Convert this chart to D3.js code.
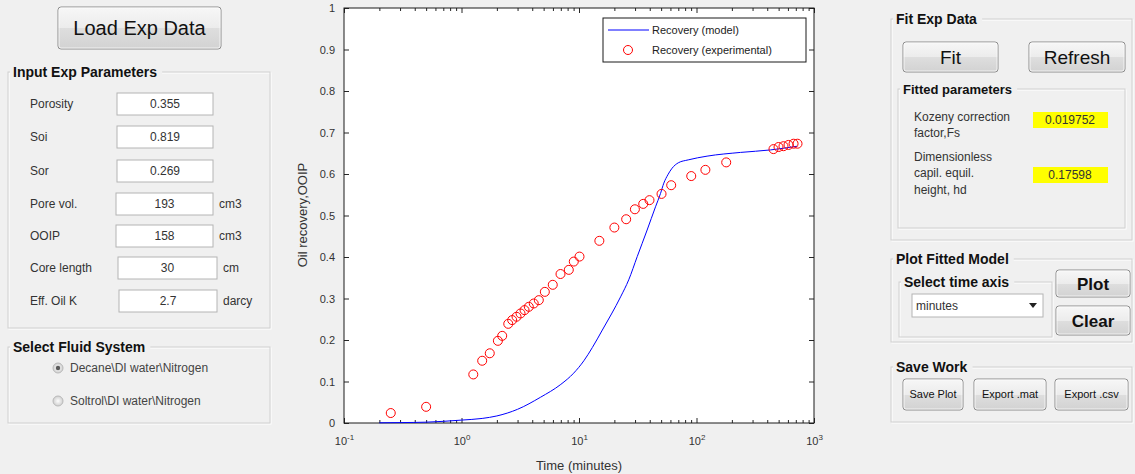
<!DOCTYPE html>
<html>
<head>
<meta charset="utf-8">
<script src="https://cdn.jsdelivr.net/npm/d3@7"></script>
<style>
  body { margin: 0; background: #f0f0f0; }
  svg { display: block; font-family: "Liberation Sans", Arial, sans-serif; }
</style>
</head>
<body>
<svg id="gui" width="1135" height="474"></svg>
<script>
// experimental points (time in minutes, recovery as fraction of OOIP)
var expTime = [0.25, 0.50, 1.26, 1.50, 1.74, 2.04, 2.22, 2.50, 2.70, 2.94, 3.18, 3.44, 3.74, 4.12, 4.55,
               5.12, 5.98, 6.96, 8.19, 9.03, 10.1, 14.9, 20.0, 25.2, 29.9, 35.2, 39.8, 50.4, 60.9,
               90.2, 119, 179, 452, 499, 550, 607, 670, 724];
var expRecovery = [0.024, 0.039, 0.117, 0.150, 0.168, 0.198, 0.210, 0.239, 0.248, 0.256, 0.264, 0.272, 0.280, 0.288, 0.296,
                   0.316, 0.333, 0.359, 0.369, 0.389, 0.401, 0.439, 0.471, 0.491, 0.515, 0.528, 0.537, 0.552, 0.573,
                   0.595, 0.610, 0.628, 0.660, 0.665, 0.667, 0.670, 0.673, 0.673];

// fitted model curve
var modelTime = [0.2, 0.3, 0.5, 0.7, 1, 1.5, 2, 3, 4.7, 7, 9, 11, 13, 15.8, 22.6, 26.5, 31.3, 38, 44.8, 49.4,
                 52.7, 57, 62, 70, 85, 123, 237, 426, 720];
var modelRecovery = [0.0005, 0.001, 0.002, 0.004, 0.007, 0.011, 0.017, 0.033, 0.062, 0.093, 0.120, 0.150, 0.182,
                     0.224, 0.304, 0.345, 0.401, 0.465, 0.521, 0.553, 0.578, 0.598, 0.614, 0.627, 0.634, 0.643,
                     0.652, 0.658, 0.667];

var yTickValues = [0, 0.1, 0.2, 0.3, 0.4, 0.5, 0.6, 0.7, 0.8, 0.9, 1];
var xTickValues = [0.1, 1, 10, 100, 1000];
var legendLabels = ["Recovery (model)", "Recovery (experimental)"];

var paramLabels = ["Porosity", "Soi", "Sor", "Pore vol.", "OOIP", "Core length", "Eff. Oil K"];
var paramValues = ["0.355", "0.819", "0.269", "193", "158", "30", "2.7"];
var paramUnits = ["", "", "", "cm3", "cm3", "cm", "darcy"];
var fluidSystems = ["Decane\\DI water\\Nitrogen", "Soltrol\\DI water\\Nitrogen"];
var fittedLabels = [["Kozeny correction", "factor,Fs"], ["Dimensionless", "capil. equil.", "height, hd"]];
var fittedValues = ["0.019752", "0.17598"];

var svg = d3.select("#gui");

// button gradient
var defs = svg.append("defs");
var grad = defs.append("linearGradient").attr("id", "btn").attr("x1", 0).attr("y1", 0).attr("x2", 0).attr("y2", 1);
grad.append("stop").attr("offset", "0%").attr("stop-color", "#f7f7f7");
grad.append("stop").attr("offset", "50%").attr("stop-color", "#ececec");
grad.append("stop").attr("offset", "51%").attr("stop-color", "#dedede");
grad.append("stop").attr("offset", "100%").attr("stop-color", "#d2d2d2");
var rgrad = defs.append("radialGradient").attr("id", "radio");
rgrad.append("stop").attr("offset", "0%").attr("stop-color", "#fdfdfd");
rgrad.append("stop").attr("offset", "100%").attr("stop-color", "#cfcfcf");

// ---------- helpers for the GUI parts ----------
function panel(x, y, w, h, title, size) {
  var g = svg.append("g");
  g.append("rect").attr("x", x + 1).attr("y", y + 1).attr("width", w).attr("height", h)
    .attr("fill", "none").attr("stroke", "#ffffff");
  g.append("rect").attr("x", x).attr("y", y).attr("width", w).attr("height", h)
    .attr("fill", "none").attr("stroke", "#d0d0d0");
  var t = g.append("text").attr("x", x + 5).attr("y", y + 5)
    .attr("font-size", size || 14).attr("font-weight", "bold").attr("fill", "#111").text(title);
  var bb = t.node().getBBox();
  g.insert("rect", "text").attr("x", bb.x - 3).attr("y", y - 3).attr("width", bb.width + 8).attr("height", 6)
    .attr("fill", "#f0f0f0");
}

function button(x, y, w, h, label, size, bold) {
  var g = svg.append("g");
  g.append("rect").attr("x", x).attr("y", y).attr("width", w).attr("height", h).attr("rx", 3)
    .attr("fill", "url(#btn)").attr("stroke", "#8c8c8c");
  g.append("rect").attr("x", x + 1).attr("y", y + 1).attr("width", w - 2).attr("height", h - 2).attr("rx", 2)
    .attr("fill", "none").attr("stroke", "#fbfbfb").attr("stroke-opacity", 0.8);
  g.append("text").attr("x", x + w / 2).attr("y", y + h / 2).attr("dy", "0.36em")
    .attr("text-anchor", "middle").attr("font-size", size).attr("font-weight", bold ? "bold" : "normal")
    .attr("fill", "#111").text(label);
}

function editBox(x, y, w, h, value) {
  svg.append("rect").attr("x", x).attr("y", y).attr("width", w).attr("height", h)
    .attr("fill", "#fff").attr("stroke", "#b4b4b4");
  svg.append("text").attr("x", x + w / 2).attr("y", y + h / 2).attr("dy", "0.36em")
    .attr("text-anchor", "middle").attr("font-size", 12).attr("fill", "#333").text(value);
}

// ---------- left side ----------
button(58, 7, 163, 42, "Load Exp Data", 20);

panel(8, 72, 262, 256, "Input Exp Parameters");
var rowY = [104, 137, 171, 204, 236, 268, 301];
var boxX = [117, 117, 117, 116, 116, 118, 119];
var boxW = [96, 96, 96, 97, 97, 99, 98];
paramLabels.forEach(function(lab, i) {
  svg.append("text").attr("x", 30).attr("y", rowY[i]).attr("dy", "0.36em")
    .attr("font-size", 12).attr("fill", "#333").text(lab);
  editBox(boxX[i], rowY[i] - 11, boxW[i], 22, paramValues[i]);
  if (paramUnits[i])
    svg.append("text").attr("x", boxX[i] + boxW[i] + 6).attr("y", rowY[i]).attr("dy", "0.36em")
      .attr("font-size", 12).attr("fill", "#333").text(paramUnits[i]);
});

panel(8, 347, 262, 76, "Select Fluid System");
fluidSystems.forEach(function(name, i) {
  var cy = 368 + i * 33;
  svg.append("circle").attr("cx", 58).attr("cy", cy).attr("r", 5)
    .attr("fill", "url(#radio)").attr("stroke", "#b9b9b9");
  if (i === 0)
    svg.append("circle").attr("cx", 58).attr("cy", cy).attr("r", 2.2).attr("fill", "#5a5a5a");
  svg.append("text").attr("x", 70).attr("y", cy).attr("dy", "0.36em")
    .attr("font-size", 12).attr("fill", "#444").text(name);
});

// ---------- chart ----------
var margin = { left: 344, top: 8 };
var width = 470, height = 415;
var chart = svg.append("g").attr("transform", "translate(" + margin.left + "," + margin.top + ")");

var x = d3.scaleLog().domain([0.1, 1000]).range([0, width]);
var y = d3.scaleLinear().domain([0, 1]).range([height, 0]);

chart.append("rect").attr("width", width).attr("height", height).attr("fill", "#fff");

var minorTicks = [];
[0.1, 1, 10, 100].forEach(function(dec) {
  for (var k = 2; k <= 9; k++) minorTicks.push(dec * k);
});

// minor ticks bottom and top
chart.append("g").attr("transform", "translate(0," + height + ")")
  .call(d3.axisBottom(x).tickValues(minorTicks).tickSize(-3).tickFormat(""));
chart.append("g")
  .call(d3.axisTop(x).tickValues(minorTicks).tickSize(-3).tickFormat(""));

// major x ticks with 10^n labels
var xAxis = chart.append("g").attr("transform", "translate(0," + height + ")")
  .call(d3.axisBottom(x).tickValues(xTickValues).tickSizeInner(-5).tickSizeOuter(0).tickPadding(14).tickFormat(""));
xAxis.selectAll(".tick text").each(function(d) {
  var t = d3.select(this);
  t.append("tspan").text("10");
  t.append("tspan").attr("dy", "-0.55em").attr("font-size", 8).text(Math.round(Math.log10(d)));
});
chart.append("g")
  .call(d3.axisTop(x).tickValues(xTickValues).tickSizeInner(-5).tickSizeOuter(0).tickFormat(""));

var yAxis = chart.append("g")
  .call(d3.axisLeft(y).tickValues(yTickValues).tickSizeInner(-5).tickSizeOuter(0).tickPadding(9)
    .tickFormat(function(d) { return d === 0 || d === 1 ? d3.format("d")(d) : d3.format(".1f")(d); }));
chart.append("g").attr("transform", "translate(" + width + ",0)")
  .call(d3.axisRight(y).tickValues(yTickValues).tickSizeInner(-5).tickSizeOuter(0).tickFormat(""));

chart.selectAll(".domain").remove();
chart.selectAll(".tick line").attr("stroke", "#262626");
chart.selectAll(".tick text").attr("font-size", 11).attr("fill", "#333")
  .attr("font-family", "Liberation Sans, Arial, sans-serif");

chart.append("rect").attr("width", width).attr("height", height)
  .attr("fill", "none").attr("stroke", "#1a1a1a");

var line = d3.line()
  .curve(d3.curveMonotoneX)
  .x(function(d, i) { return x(modelTime[i]); })
  .y(function(d, i) { return y(modelRecovery[i]); });

chart.append("path")
  .datum(modelTime)
  .attr("d", line)
  .attr("fill", "none")
  .attr("stroke", "#0000ff")
  .attr("stroke-width", 1);

chart.selectAll("circle.exp")
  .data(expTime)
  .enter().append("circle")
  .attr("class", "exp")
  .attr("cx", function(d) { return x(d); })
  .attr("cy", function(d, i) { return y(expRecovery[i]); })
  .attr("r", 4.5)
  .attr("fill", "none")
  .attr("stroke", "#ff0000")
  .attr("stroke-width", 1);

// axis titles
svg.append("text").attr("transform", "translate(302,215) rotate(-90)")
  .attr("text-anchor", "middle").attr("dy", "0.36em").attr("font-size", 13).attr("fill", "#333")
  .text("Oil recovery,OOIP");
svg.append("text").attr("x", margin.left + width / 2).attr("y", 465)
  .attr("text-anchor", "middle").attr("dy", "0.36em").attr("font-size", 13).attr("fill", "#333")
  .text("Time (minutes)");

// legend
var legend = chart.append("g").attr("transform", "translate(259,10)");
legend.append("rect").attr("width", 203).attr("height", 44).attr("fill", "#fff").attr("stroke", "#1a1a1a");
legend.append("line").attr("x1", 5).attr("x2", 46).attr("y1", 12).attr("y2", 12)
  .attr("stroke", "#0000ff");
legend.append("circle").attr("cx", 25).attr("cy", 32).attr("r", 4.5)
  .attr("fill", "none").attr("stroke", "#ff0000");
legendLabels.forEach(function(lab, i) {
  legend.append("text").attr("x", 49).attr("y", 12 + i * 20).attr("dy", "0.36em")
    .attr("font-size", 11).attr("fill", "#222").text(lab);
});

// ---------- right side ----------
panel(891, 19, 241, 221, "Fit Exp Data");
button(903, 42, 95, 30, "Fit", 19);
button(1029, 42, 96, 30, "Refresh", 19);

panel(898, 89, 227, 139, "Fitted parameters", 13);
var fitY = [[117, 133], [157, 173, 190]];
var yellowY = [112, 167];
fittedLabels.forEach(function(lines, i) {
  lines.forEach(function(l, j) {
    svg.append("text").attr("x", 914).attr("y", fitY[i][j]).attr("dy", "0.36em")
      .attr("font-size", 12).attr("fill", "#333").text(l);
  });
  svg.append("rect").attr("x", 1033).attr("y", yellowY[i]).attr("width", 75).attr("height", 16)
    .attr("fill", "#ffff00");
  svg.append("text").attr("x", 1070).attr("y", yellowY[i] + 8).attr("dy", "0.36em")
    .attr("text-anchor", "middle").attr("font-size", 12).attr("fill", "#333").text(fittedValues[i]);
});

panel(891, 259, 241, 83, "Plot Fitted Model");
panel(899, 282, 153, 55, "Select time axis");
svg.append("rect").attr("x", 912).attr("y", 294).attr("width", 131).attr("height", 23)
  .attr("fill", "#fff").attr("stroke", "#b4b4b4");
svg.append("text").attr("x", 916).attr("y", 305.5).attr("dy", "0.36em")
  .attr("font-size", 12).attr("fill", "#333").text("minutes");
svg.append("path").attr("d", "M1029,303 L1037,303 L1033,308 Z").attr("fill", "#222");
button(1056, 270, 74, 27, "Plot", 17, true);
button(1056, 306, 74, 29, "Clear", 17, true);

panel(891, 367, 241, 55, "Save Work");
button(903, 379, 60, 31, "Save Plot", 11);
button(974, 379, 72, 31, "Export .mat", 11);
button(1055, 379, 73, 31, "Export .csv", 11);
</script>
</body>
</html>
